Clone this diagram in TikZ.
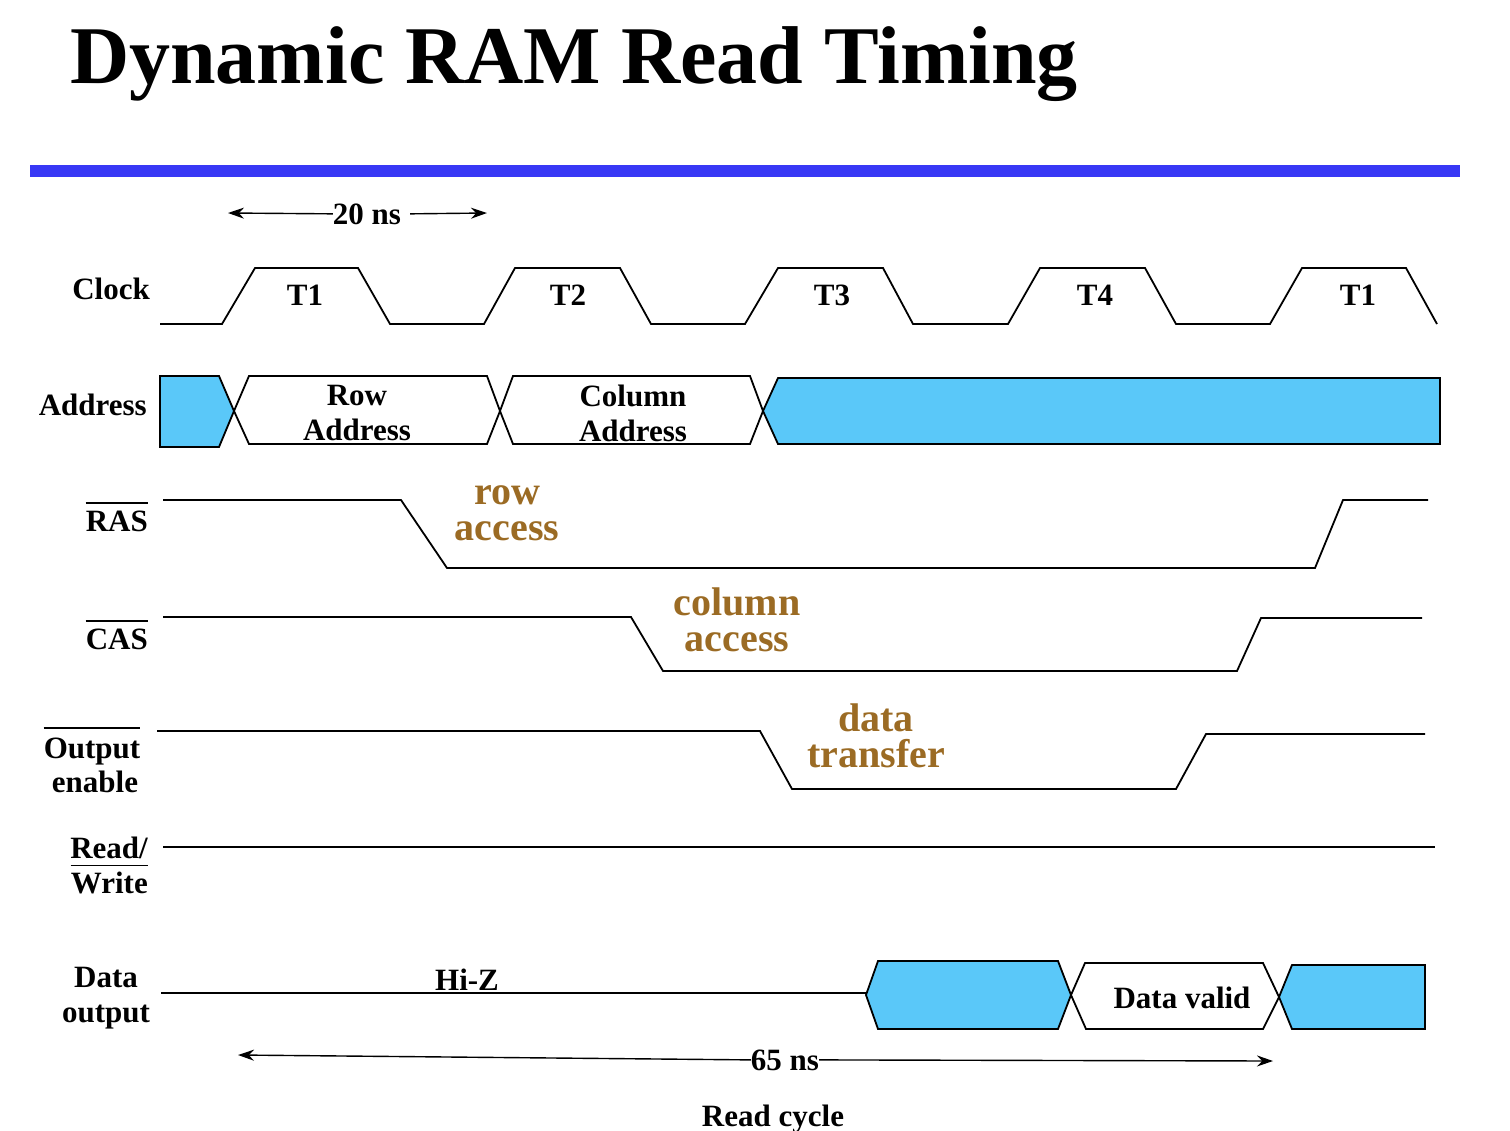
\documentclass[tikz,border=0pt]{standalone}
\usepackage{fontspec}
\setmainfont{Liberation Serif}
\usetikzlibrary{arrows.meta}
\definecolor{barblue}{HTML}{3838F5}
\definecolor{busfill}{HTML}{5AC8F9}
\definecolor{annot}{HTML}{9B6B24}
\begin{document}
\begin{tikzpicture}[x=1pt,y=-1pt,line join=miter,
  lbl/.style={font=\fontsize{31}{35}\selectfont\bfseries,inner sep=0pt,align=center},
  ann/.style={font=\fontsize{40}{36}\selectfont\bfseries,text=annot,inner sep=0pt,align=center},
  sig/.style={draw=black,line width=1.8pt},
  bus/.style={draw=black,fill=busfill,line width=1.8pt},
  busw/.style={draw=black,fill=white,line width=1.8pt},
  ovl/.style={draw=black,line width=1.6pt},
  dim/.style={draw=black,line width=1.4pt,-{Stealth[length=16pt,width=11pt]}}]
\useasboundingbox (0,0) rectangle (1510,1130);

% title and bar
\node[anchor=base west,inner sep=0pt,font=\fontsize{82}{90}\selectfont\bfseries] (title) at (70,83) {Dynamic RAM Read Timing};
\fill[barblue] (30,165) rectangle (1460,177);

% 20 ns
\node[lbl,anchor=base] (t20) at (367,224) {20 ns};
\coordinate (a20l) at (228,213);
\coordinate (a20r) at (487,213);
\draw[dim] (t20.west) -- (a20l);
\draw[dim] ([xshift=9pt]t20.east) -- (a20r);

% signal labels
\node[lbl,anchor=base east] (lclk) at (150,299) {Clock};
\node[lbl,anchor=base east] (laddr) at (147,415) {Address};
\node[lbl,anchor=base east] (lras) at (148,531) {RAS};
\draw[ovl] ([yshift=7pt]lras.north west) -- ([yshift=7pt]lras.north east);
\node[lbl,anchor=base east] (lcas) at (148,649) {CAS};
\draw[ovl] ([yshift=7pt]lcas.north west) -- ([yshift=7pt]lcas.north east);
\node[lbl,anchor=base] (lout) at (92,758) {Output};
\draw[ovl] ([yshift=9pt]lout.north west) -- ([yshift=9pt]lout.north east);
\node[lbl,anchor=base] (lena) at (95,792) {enable};
\node[lbl,anchor=base east] (lread) at (148,858) {Read/};
\node[lbl,anchor=base east] (lwrite) at (148,893) {Write};
\draw[ovl] ([yshift=6pt]lwrite.north west) -- ([yshift=6pt]lwrite.north east);
\node[lbl] (ldata) at (106,998) {Data\\output};

% clock
\draw[sig] (160,324) -- (222,324) -- (255,268) -- (358,268) -- (390,324) -- (484,324) -- (515,268) -- (620,268) -- (651,324) -- (745,324) -- (778,268) -- (883,268) -- (913,324) -- (1008,324) -- (1040,268) -- (1145,268) -- (1176,324) -- (1270,324) -- (1302,268) -- (1406,268) -- (1437,324);
\node[lbl,anchor=base] (c1) at (305,305) {T1};
\node[lbl,anchor=base] (c2) at (568,305) {T2};
\node[lbl,anchor=base] (c3) at (832,305) {T3};
\node[lbl,anchor=base] (c4) at (1095,305) {T4};
\node[lbl,anchor=base] (c5) at (1358,305) {T1};

% address
\draw[bus] (160,376) -- (219,376) -- (234,411) -- (219,447) -- (160,447) -- cycle;
\draw[busw] (234,411) -- (249,376) -- (487,376) -- (500,411) -- (487,444) -- (249,444) -- cycle;
\draw[busw] (500,411) -- (513,376) -- (750,376) -- (763,411) -- (750,444) -- (513,444) -- cycle;
\draw[bus] (763,411) -- (778,378) -- (1440,378) -- (1440,444) -- (778,444) -- cycle;
\node[lbl] (rowa) at (357,413) {Row\\Address};
\node[lbl] (cola) at (633,413) {Column\\Address};

% RAS
\draw[sig] (163,500) -- (401,500) -- (447,568) -- (1315,568) -- (1343,500) -- (1428,500);
\node[ann] (rowacc) at (507,513) {row\\access};

% CAS
\draw[sig] (163,617) -- (631,617) -- (663,671) -- (1237,671) -- (1261,618) -- (1422,618);
\node[ann] (colacc) at (737,620) {column\\access};

% OE
\draw[sig] (157,731) -- (760,731) -- (792,789) -- (1176,789) -- (1206,734) -- (1425,734);
\node[ann] (dtrans) at (876,736) {data\\transfer};

% R/W
\draw[sig] (163,847) -- (1435,847);

% data output
\draw[sig] (161,993) -- (866,993);
\node[lbl,anchor=base] (hiz) at (467,990) {Hi-Z};
\draw[bus] (866,995) -- (878,961) -- (1058,961) -- (1071,995) -- (1058,1029) -- (878,1029) -- cycle;
\draw[busw] (1071,995) -- (1085,963) -- (1263,963) -- (1279,997) -- (1263,1029) -- (1086,1029) -- cycle;
\draw[bus] (1279,997) -- (1292,965) -- (1425,965) -- (1425,1029) -- (1292,1029) -- cycle;
\node[lbl,anchor=base] (dvalid) at (1182,1008) {Data valid};

% 65 ns
\node[lbl,anchor=base] (t65) at (785,1070) {65 ns};
\coordinate (a65l) at (238,1055);
\coordinate (a65r) at (1273,1061);
\draw[dim] (t65.west) -- (a65l);
\draw[dim] (t65.east) -- (a65r);

\node[lbl,anchor=base] (rcyc) at (773,1126) {Read cycle};
\end{tikzpicture}
\end{document}
